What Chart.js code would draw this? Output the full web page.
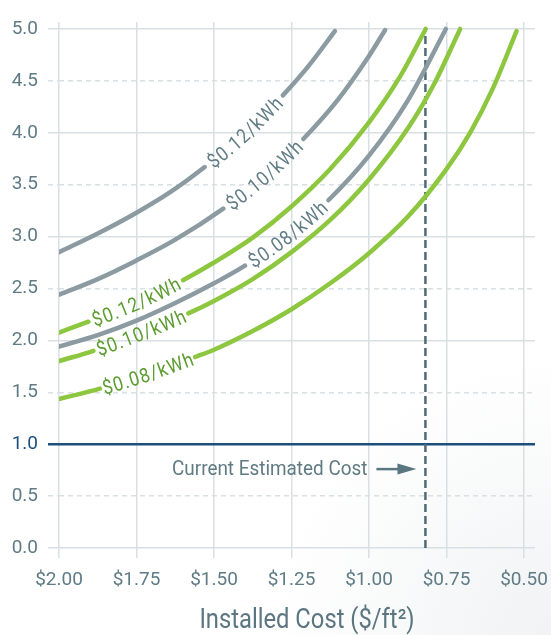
<!DOCTYPE html>
<html><head><meta charset="utf-8">
<script src="https://cdn.jsdelivr.net/npm/chart.js@4/dist/chart.umd.min.js"></script>
<style>html,body{margin:0;padding:0;background:#fff;}#wrap{width:551px;height:635px;position:relative;}</style>
</head><body><div id="wrap"><canvas id="c"></canvas></div>
<script>
// ---------- DATA ----------
const xTickValues = [0.50, 0.75, 1.00, 1.25, 1.50, 1.75, 2.00];   // installed cost $/ft²
const yTickValues = [0, 0.5, 1, 1.5, 2, 2.5, 3, 3.5, 4, 4.5, 5];
const xAxisTitle = 'Installed Cost ($/ft²)';
const annotationText = 'Current Estimated Cost';
const currentCost = 0.818;
const currentCostSpan = [0, 5];
const referenceValue = 1.0;

// gray family
const gray012Cost  = [2.00, 1.875, 1.75, 1.64, 1.53, 1.40, 1.278, 1.196, 1.11];
const gray012Value = [2.85, 3.03, 3.23, 3.43, 3.67, 3.99, 4.36, 4.64, 4.98];
const gray012Gap   = [1.53, 1.278];

const gray010Cost  = [2.00, 1.875, 1.75, 1.625, 1.47, 1.34, 1.212, 1.10, 1.00, 0.948];
const gray010Value = [2.44, 2.59, 2.77, 2.97, 3.27, 3.57, 3.94, 4.32, 4.74, 4.99];
const gray010Gap   = [1.47, 1.212];

const gray008Cost  = [2.00, 1.875, 1.75, 1.625, 1.50, 1.40, 1.265, 1.131, 1.00, 0.875, 0.752];
const gray008Value = [1.94, 2.05, 2.19, 2.36, 2.55, 2.72, 3.00, 3.35, 3.78, 4.31, 5.00];
const gray008Gap   = [1.40, 1.131];

// green family
const green012Cost  = [2.00, 1.905, 1.75, 1.60, 1.50, 1.375, 1.25, 1.125, 1.00, 0.90, 0.817];
const green012Value = [2.075, 2.18, 2.36, 2.58, 2.75, 2.99, 3.29, 3.65, 4.10, 4.54, 5.00];
const green012Gap   = [1.905, 1.60];

const green010Cost  = [2.00, 1.889, 1.736, 1.583, 1.50, 1.375, 1.25, 1.125, 1.00, 0.875, 0.79, 0.706];
const green010Value = [1.80, 1.90, 2.07, 2.26, 2.38, 2.59, 2.85, 3.16, 3.55, 4.04, 4.47, 5.00];
const green010Gap   = [1.889, 1.583];

const green008Cost  = [2.00, 1.868, 1.71, 1.561, 1.50, 1.375, 1.25, 1.125, 1.00, 0.875, 0.75, 0.674, 0.60, 0.524];
const green008Value = [1.435, 1.535, 1.68, 1.84, 1.91, 2.09, 2.30, 2.55, 2.84, 3.19, 3.65, 4.00, 4.43, 4.98];
const green008Gap   = [1.868, 1.561];

const labels = ['$0.12/kWh', '$0.10/kWh', '$0.08/kWh'];

// ---------- STYLE ----------
const FONT = 'Roboto, "Liberation Sans", sans-serif';
const SQUEEZE = 0.88;   // horizontal squeeze for hand-drawn texts (condensed look)
const GRAY_LINE = '#8b9ba1', GRAY_TEXT = '#627d86';
const GREEN_LINE = '#8dc63f', GREEN_TEXT = '#5c9c30';
const GRID = '#d9e0e3', TICK_TEXT = '#5f7b85', NAVY = '#1c4f7e', DASH = '#4f6b74';

function curve(cost, value, gap, label, line, text) {
  const data = cost.map((c, i) => ({x: c, y: value[i]}));
  return {
    data, curveLabel: label, labelGap: gap, labelColor: text,
    borderColor: line, borderWidth: 4.5, pointRadius: 0,
    cubicInterpolationMode: 'monotone', borderCapStyle: 'round', borderJoinStyle: 'round',
    fill: false,
    segment: {
      borderColor: ctx => {
        const c0 = cost[ctx.p0DataIndex], c1 = cost[ctx.p1DataIndex];
        return (c0 <= gap[0] + 1e-9 && c1 >= gap[1] - 1e-9) ? 'rgba(0,0,0,0)' : line;
      }
    }
  };
}

const datasets = [
  curve(gray012Cost, gray012Value, gray012Gap, labels[0], GRAY_LINE, GRAY_TEXT),
  curve(gray010Cost, gray010Value, gray010Gap, labels[1], GRAY_LINE, GRAY_TEXT),
  curve(gray008Cost, gray008Value, gray008Gap, labels[2], GRAY_LINE, GRAY_TEXT),
  curve(green012Cost, green012Value, green012Gap, labels[0], GREEN_LINE, GREEN_TEXT),
  curve(green010Cost, green010Value, green010Gap, labels[1], GREEN_LINE, GREEN_TEXT),
  curve(green008Cost, green008Value, green008Gap, labels[2], GREEN_LINE, GREEN_TEXT),
  {
    data: currentCostSpan.map(v => ({x: currentCost, y: v})),
    borderColor: DASH, borderWidth: 2.5, borderDash: [8, 4], pointRadius: 0, fill: false,
    borderCapStyle: 'butt'
  }
];

const curveLabelPlugin = {
  id: 'curveLabels',
  afterDatasetsDraw(chart) {
    const ctx = chart.ctx;
    chart.data.datasets.forEach((ds, di) => {
      if (!ds.curveLabel) return;
      const pts = chart.getDatasetMeta(di).data;
      const costs = ds.data.map(d => d.x);
      const iA = costs.findIndex(c => Math.abs(c - ds.labelGap[0]) < 1e-9);
      const iB = costs.findIndex(c => Math.abs(c - ds.labelGap[1]) < 1e-9);
      const poly = [];
      for (let i = iA; i < iB; i++) {
        const p0 = pts[i], p1 = pts[i + 1];
        const N = 40;
        for (let k = (i > iA ? 1 : 0); k <= N; k++) {
          const t = k / N, u = 1 - t;
          const x = u*u*u*p0.x + 3*u*u*t*p0.cp2x + 3*u*t*t*p1.cp1x + t*t*t*p1.x;
          const y = u*u*u*p0.y + 3*u*u*t*p0.cp2y + 3*u*t*t*p1.cp1y + t*t*t*p1.y;
          poly.push({x, y});
        }
      }
      const cum = [0];
      for (let i = 1; i < poly.length; i++) {
        cum.push(cum[i-1] + Math.hypot(poly[i].x - poly[i-1].x, poly[i].y - poly[i-1].y));
      }
      const L = cum[cum.length - 1];
      const at = d => {
        let i = 1;
        while (i < cum.length - 1 && cum[i] < d) i++;
        const a = poly[i-1], b = poly[i];
        const seg = cum[i] - cum[i-1] || 1;
        const t = Math.min(Math.max((d - cum[i-1]) / seg, 0), 1);
        return {x: a.x + (b.x - a.x) * t, y: a.y + (b.y - a.y) * t, ang: Math.atan2(b.y - a.y, b.x - a.x)};
      };
      const size = 20;
      ctx.save();
      ctx.font = size + 'px ' + FONT;
      ctx.fillStyle = ds.labelColor;
      const chars = [...ds.curveLabel];
      const widths = chars.map(c => ctx.measureText(c).width * SQUEEZE);
      const spacing = 1.1;
      const total = widths.reduce((a, b) => a + b, 0) + spacing * (chars.length - 1);
      let d = (L - total) / 2;
      chars.forEach((c, j) => {
        const p = at(d + widths[j] / 2);
        ctx.save();
        ctx.translate(p.x, p.y);
        ctx.rotate(p.ang);
        ctx.scale(SQUEEZE, 1);
        ctx.textAlign = 'center';
        ctx.textBaseline = 'alphabetic';
        ctx.fillText(c, 0, size * 0.36);
        ctx.restore();
        d += widths[j] + spacing;
      });
      ctx.restore();
    });
  }
};

const decorPlugin = {
  id: 'decor',
  beforeDraw(chart) {
    const ctx = chart.ctx, w = chart.width, h = chart.height;
    ctx.save();
    ctx.fillStyle = '#ffffff';
    ctx.fillRect(0, 0, w, h);
    const g = ctx.createRadialGradient(w, h, 10, w, h, 280);
    g.addColorStop(0, 'rgba(215,220,223,0.35)');
    g.addColorStop(1, 'rgba(215,220,223,0)');
    ctx.fillStyle = g;
    ctx.fillRect(0, 0, w, h);
    ctx.restore();
  },
  afterDraw(chart) {
    const ctx = chart.ctx;
    const xs = chart.scales.x, ys = chart.scales.y;
    ctx.save();
    // annotation text + arrow
    const ay = ys.getPixelForValue(0.76);
    const tip = xs.getPixelForValue(currentCost) - 9;
    ctx.fillStyle = '#5f7a83';
    ctx.font = '21px ' + FONT;
    ctx.textAlign = 'right';
    ctx.textBaseline = 'middle';
    ctx.save();
    ctx.translate(tip - 49, ay + 1);
    ctx.scale(0.9, 1);
    ctx.fillText(annotationText, 0, 0);
    ctx.restore();
    ctx.strokeStyle = '#5a7680';
    ctx.lineWidth = 2.5;
    ctx.beginPath(); ctx.moveTo(tip - 40, ay); ctx.lineTo(tip - 15, ay); ctx.stroke();
    ctx.fillStyle = '#5a7680';
    ctx.beginPath(); ctx.moveTo(tip, ay); ctx.lineTo(tip - 19, ay - 5.5); ctx.lineTo(tip - 19, ay + 5.5); ctx.closePath(); ctx.fill();
    // x axis title
    ctx.font = '27px ' + FONT;
    ctx.fillStyle = '#5b7680';
    ctx.textAlign = 'center';
    ctx.textBaseline = 'alphabetic';
    ctx.save();
    ctx.translate(307, 628);
    ctx.scale(SQUEEZE, 1);
    ctx.fillText(xAxisTitle, 0, 0);
    ctx.restore();
    ctx.restore();
  }
};

new Chart(document.getElementById('c'), {
  type: 'line',
  data: {datasets},
  plugins: [decorPlugin, curveLabelPlugin],
  options: {
    responsive: true, maintainAspectRatio: false, animation: false,
    layout: {padding: {top: 22, right: 16, left: 0, bottom: 0}},
    plugins: {legend: {display: false}, tooltip: {enabled: false}, title: {display: false}},
    scales: {
      x: {
        type: 'linear', reverse: true, min: 0.4645, max: 2.0,
        afterBuildTicks: s => { s.ticks = xTickValues.map(v => ({value: v})); },
        afterFit: s => { s.height = 87; },
        ticks: {
          callback: v => '$' + Number(v).toFixed(2),
          font: {family: FONT, size: 19}, color: TICK_TEXT, padding: 11,
          maxRotation: 0, autoSkip: false
        },
        grid: {color: GRID, lineWidth: 1.5, tickLength: 10, tickColor: GRID, drawTicks: true},
        border: {display: false}
      },
      y: {
        type: 'linear', min: 0, max: 5.067,
        afterBuildTicks: s => { s.ticks = yTickValues.map(v => ({value: v})); },
        afterFit: s => { s.width = 59; },
        ticks: {
          callback: v => Number(v).toFixed(1),
          font: {family: FONT, size: 19},
          color: ctx => (ctx.tick && ctx.tick.value === referenceValue) ? NAVY : TICK_TEXT,
          padding: 10
        },
        grid: {
          color: ctx => (ctx.tick && ctx.tick.value === referenceValue) ? NAVY : GRID,
          tickColor: ctx => (ctx.tick && ctx.tick.value === referenceValue) ? NAVY : GRID,
          lineWidth: ctx => (ctx.tick && ctx.tick.value === referenceValue) ? 2.5 : 1.5,
          tickWidth: ctx => (ctx.tick && ctx.tick.value === referenceValue) ? 2.5 : 1.5,
          tickLength: 11, drawTicks: true,
          tickBorderDash: ctx => (ctx.tick && ctx.tick.value % 1 !== 0) ? [5, 4] : []
        },
        border: {display: false, dash: ctx => (ctx.tick && ctx.tick.value % 1 !== 0) ? [5, 4] : []}
      }
    }
  }
});
</script></body></html>
